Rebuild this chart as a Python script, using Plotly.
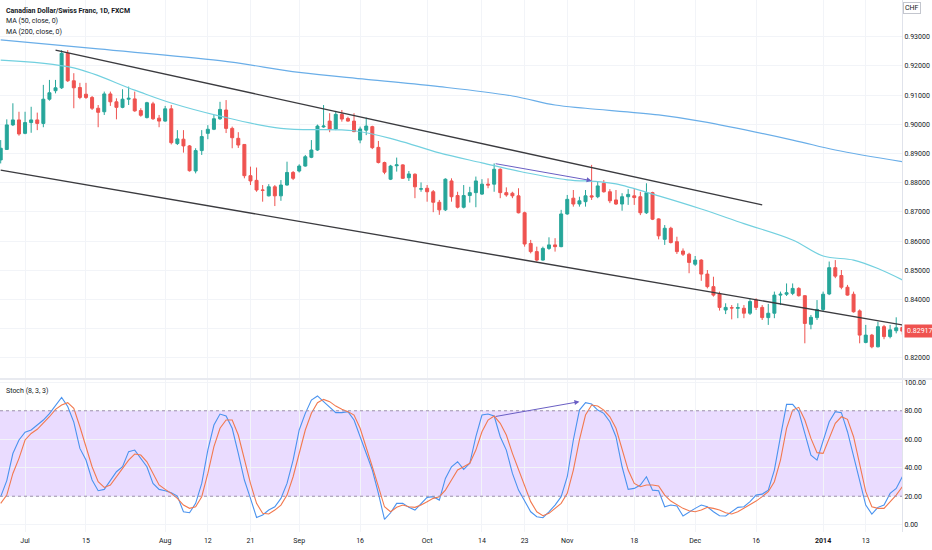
import pandas as pd
import plotly.graph_objects as go

# ---------------- data ----------------
holidays = ["2013-12-25", "2014-01-01"]
dates = [d.strftime("%Y-%m-%d") for d in pd.bdate_range("2013-06-25", "2014-01-21")
         if d.strftime("%Y-%m-%d") not in holidays]

open_ = [0.8878,0.8914,0.8998,0.9015,0.8969,0.9006,0.9015,0.9003,0.9086,0.9115,
         0.9125,0.9243,0.9149,0.9126,0.9103,0.9092,0.9055,0.9043,0.9104,0.9077,
         0.9058,0.9086,0.9087,0.9047,0.9023,0.9070,0.9021,0.9011,0.9053,0.8934,
         0.8949,0.8926,0.8840,0.8910,0.8969,0.8983,0.9019,0.9049,0.8986,0.8952,
         0.8931,0.8824,0.8808,0.8775,0.8755,0.8786,0.8755,0.8792,0.8835,0.8840,
         0.8857,0.8887,0.8912,0.8991,0.9011,0.8984,0.9034,0.9020,0.9011,0.8946,
         0.8980,0.8992,0.8921,0.8869,0.8812,0.8858,0.8861,0.8817,0.8829,0.8778,
         0.8781,0.8769,0.8733,0.8707,0.8806,0.8756,0.8716,0.8756,0.8766,0.8761,
         0.8795,0.8795,0.8846,0.8766,0.8764,0.8755,0.8697,0.8592,0.8564,0.8535,
         0.8575,0.8587,0.8581,0.8693,0.8747,0.8727,0.8735,0.8755,0.8752,0.8798,
         0.8769,0.8741,0.8727,0.8752,0.8755,0.8752,0.8697,0.8766,0.8676,0.8606,
         0.8644,0.8598,0.8566,0.8555,0.8521,0.8535,0.8487,0.8444,0.8419,0.8364,
         0.8372,0.8370,0.8370,0.8353,0.8398,0.8373,0.8338,0.8353,0.8415,0.8418,
         0.8421,0.8438,0.8413,0.8315,0.8338,0.8366,0.8419,0.8509,0.8482,0.8442,
         0.8418,0.8361,0.8253,0.8278,0.8238,0.8307,0.8273,0.8293,0.8304]
high = [0.8946,0.9017,0.9072,0.9043,0.9043,0.9060,0.9040,0.9135,0.9152,0.9152,
        0.9254,0.9254,0.9175,0.9142,0.9142,0.9097,0.9066,0.9112,0.9112,0.9089,
        0.9120,0.9129,0.9112,0.9055,0.9077,0.9077,0.9032,0.9063,0.9066,0.8980,
        0.8980,0.8929,0.8918,0.8980,0.8997,0.9032,0.9077,0.9083,0.8992,0.8973,
        0.8932,0.8855,0.8852,0.8792,0.8795,0.8792,0.8809,0.8872,0.8840,0.8863,
        0.8895,0.8946,0.8999,0.9066,0.9038,0.9046,0.9049,0.9026,0.9038,0.8992,
        0.9023,0.8995,0.8943,0.8872,0.8861,0.8886,0.8863,0.8840,0.8832,0.8801,
        0.8792,0.8775,0.8741,0.8815,0.8815,0.8769,0.8792,0.8786,0.8821,0.8812,
        0.8815,0.8866,0.8849,0.8784,0.8769,0.8781,0.8701,0.8604,0.8581,0.8581,
        0.8613,0.8610,0.8707,0.8758,0.8775,0.8752,0.8775,0.8861,0.8803,0.8809,
        0.8778,0.8775,0.8764,0.8778,0.8778,0.8769,0.8798,0.8769,0.8678,0.8655,
        0.8649,0.8615,0.8575,0.8560,0.8549,0.8538,0.8501,0.8478,0.8427,0.8387,
        0.8381,0.8387,0.8381,0.8404,0.8404,0.8381,0.8385,0.8427,0.8427,0.8455,
        0.8455,0.8442,0.8415,0.8347,0.8398,0.8427,0.8530,0.8535,0.8501,0.8450,
        0.8427,0.8366,0.8313,0.8282,0.8324,0.8313,0.8313,0.8339,0.8313]
low = [0.8866,0.8912,0.8994,0.8961,0.8966,0.8971,0.8980,0.8990,0.9081,0.9106,
       0.9121,0.9145,0.9055,0.9086,0.9087,0.9049,0.8990,0.9032,0.9063,0.9017,
       0.9055,0.9066,0.9043,0.9026,0.9020,0.9015,0.8990,0.9009,0.8931,0.8929,
       0.8903,0.8838,0.8832,0.8895,0.8949,0.8980,0.9015,0.8970,0.8918,0.8919,
       0.8815,0.8792,0.8769,0.8735,0.8753,0.8720,0.8738,0.8790,0.8809,0.8835,
       0.8855,0.8884,0.8909,0.8988,0.8973,0.8980,0.9009,0.9009,0.8973,0.8935,
       0.8963,0.8915,0.8866,0.8829,0.8809,0.8838,0.8813,0.8806,0.8747,0.8769,
       0.8735,0.8699,0.8690,0.8703,0.8735,0.8712,0.8712,0.8732,0.8716,0.8758,
       0.8781,0.8769,0.8747,0.8752,0.8747,0.8695,0.8581,0.8558,0.8530,0.8533,
       0.8570,0.8564,0.8579,0.8690,0.8718,0.8718,0.8718,0.8741,0.8747,0.8766,
       0.8730,0.8724,0.8704,0.8724,0.8724,0.8689,0.8693,0.8672,0.8606,0.8587,
       0.8592,0.8556,0.8549,0.8490,0.8515,0.8464,0.8438,0.8410,0.8362,0.8350,
       0.8332,0.8336,0.8336,0.8347,0.8364,0.8330,0.8313,0.8336,0.8381,0.8412,
       0.8415,0.8410,0.8250,0.8298,0.8330,0.8358,0.8415,0.8473,0.8435,0.8413,
       0.8355,0.8250,0.8250,0.8233,0.8236,0.8264,0.8267,0.8284,0.8280]
close = [0.8918,0.8998,0.9015,0.8967,0.9006,0.9015,0.9003,0.9086,0.9108,0.9125,
         0.9243,0.9149,0.9125,0.9092,0.9092,0.9055,0.9041,0.9104,0.9077,0.9058,
         0.9086,0.9089,0.9046,0.9031,0.9074,0.9019,0.9011,0.9053,0.8937,0.8950,
         0.8926,0.8841,0.8910,0.8958,0.8983,0.9019,0.9051,0.8986,0.8954,0.8929,
         0.8824,0.8806,0.8775,0.8774,0.8786,0.8755,0.8792,0.8835,0.8815,0.8857,
         0.8889,0.8912,0.8994,0.8994,0.8983,0.9034,0.9018,0.9011,0.8975,0.8984,
         0.8994,0.8920,0.8869,0.8836,0.8857,0.8861,0.8815,0.8830,0.8786,0.8779,
         0.8769,0.8733,0.8707,0.8812,0.8752,0.8716,0.8756,0.8766,0.8806,0.8795,
         0.8792,0.8846,0.8766,0.8758,0.8755,0.8697,0.8590,0.8564,0.8535,0.8575,
         0.8587,0.8581,0.8693,0.8743,0.8727,0.8738,0.8755,0.8751,0.8789,0.8769,
         0.8738,0.8727,0.8752,0.8760,0.8749,0.8697,0.8766,0.8675,0.8618,0.8644,
         0.8595,0.8564,0.8555,0.8527,0.8535,0.8487,0.8444,0.8415,0.8373,0.8373,
         0.8371,0.8372,0.8353,0.8393,0.8373,0.8338,0.8353,0.8415,0.8418,0.8423,
         0.8438,0.8413,0.8318,0.8339,0.8366,0.8418,0.8509,0.8480,0.8442,0.8415,
         0.8358,0.8278,0.8278,0.8238,0.8307,0.8273,0.8296,0.8303,0.82917]

ma50_idx = [0, 12, 22, 28, 36, 46, 58, 65, 72, 79, 86, 93, 98, 101, 108, 115, 122, 130, 135, 140, 144, 148]
ma50_val = [0.9220, 0.9193, 0.9117, 0.9073, 0.9028, 0.8986, 0.8978, 0.8946, 0.8902, 0.8868, 0.8835,
            0.8810, 0.8804, 0.8796, 0.8755, 0.8710, 0.8660, 0.8604, 0.8549, 0.8535, 0.8506, 0.8467]
ma200_idx = [0, 16, 36, 49, 60, 72, 84, 91, 96, 108, 115, 130, 137, 148]
ma200_val = [0.9289, 0.9258, 0.9218, 0.9178, 0.9154, 0.9129, 0.9097, 0.9066, 0.9055, 0.9032,
             0.9010, 0.8946, 0.8912, 0.8872]

stoch_k = [19.7,31,50,59.5,65,66.5,70,73.5,78,84,89.4,83,72,53.6,45.4,31.4,23.9,24.8,31.4,37.2,
           40.7,51.3,52.4,46.6,40.7,29,24.8,23.9,22.5,20.1,9.1,8.4,15,29,52.4,70,77.7,76.3,67.7,50.1,
           31.4,18.5,5.1,6.8,10.3,12.6,18.5,29,45.4,66.5,78.2,87.5,90.4,86.4,82.4,78.7,78.7,79.4,73.5,61.8,
           50.1,38.4,22,3.7,8.4,15,15,12.2,10.3,15,19.2,19.7,17.3,32.5,40.7,44.2,38.9,43.1,61.8,77,
           77.7,76.3,61.8,52.4,36,24.3,16.2,9.1,5.6,4.9,9.1,13.8,19.7,33.7,59.5,80.5,85.7,84.7,80.5,78.2,
           72.3,61.8,40.7,24.8,25.5,27.9,33.7,24.3,23.9,12.6,13.8,13.1,6.1,9.1,11.5,13.8,12.6,9.1,6.3,6.1,
           9.1,12.2,12.6,16.2,20.8,21.5,24.3,38.4,61.8,84.5,84.5,79.4,64.1,48.9,45.4,59.5,72.3,79.4,78.7,65.3,
           47.8,31.4,13.8,7.5,12.2,13.8,22,25.5,33.7]
stoch_d = [15,20.8,36,46.6,59.5,64.1,67,71.2,75.8,81,84,85.7,81.7,68.8,54.8,40.7,30.2,26.2,27.9,33.7,
           39.6,45.4,49.6,48.9,44.2,36,27.9,24.8,22,18.5,13.8,11.5,12.6,19.7,36,54.8,67.7,73.5,73.5,63,
           45.4,29,15,8,7.5,10.3,13.8,20.8,33.7,50.1,66.5,78.2,85.7,88,86.4,83.3,81,79.4,77,67.7,
           54.8,40.7,26.7,12.6,9.1,12.2,13.8,12.6,12.2,13.8,16.2,18.5,19.7,24.3,31.4,38.4,40.7,43.1,52.4,65.3,
           73.5,76.3,71.2,63,50.1,38.4,26.7,16.2,9.1,6.3,8,11.5,15,22,38.4,59.5,77,84,83.3,80.5,
           75.8,67.7,53.6,38.4,29,26.7,27.9,27.9,27.2,20.8,16.6,13.8,11.5,9.8,9.1,10.3,12.2,11.5,10.3,8.4,
           7.5,9.1,11.5,13.8,16.6,19.7,23.2,30.2,45.4,67.7,80.5,82.4,73.5,60.6,50.6,50.1,60.6,71.2,75.8,74,
           61.8,43.1,23.2,12.6,11.5,11.5,16.2,20.8,26.7]

upper_trend_idx = [9, 125]
upper_trend_val = [0.9254, 0.8724]
lower_trend_idx = [0, 148]
lower_trend_val = [0.8843, 0.8313]

price_arrow_idx = [81, 97]
price_arrow_val = [0.8866, 0.8807]
stoch_arrow_idx = [81, 95]
stoch_arrow_val = [75.8, 86.4]

tick_dates = ["2013-07-01", "2013-07-15", "2013-08-01", "2013-08-12", "2013-08-21", "2013-09-02",
              "2013-09-16", "2013-10-01", "2013-10-14", "2013-10-23", "2013-11-01", "2013-11-18",
              "2013-12-02", "2013-12-16", "2014-01-02", "2014-01-13"]
tick_text = ["Jul", "15", "Aug", "12", "21", "Sep", "16", "Oct", "14", "23", "Nov", "18",
             "Dec", "16", "<b>2014</b>", "13"]
price_ticks = [0.82, 0.83, 0.84, 0.85, 0.86, 0.87, 0.88, 0.89, 0.90, 0.91, 0.92, 0.93]
# the 0.83000 label sits under the last-price tag in the reference
price_tick_text = ["%.5f" % v if abs(v - 0.83) > 1e-9 else "" for v in price_ticks]
stoch_ticks = [0, 20, 40, 60, 80, 100]

# ---------------- figure ----------------
FONT = "Roboto"
TXT = "#131722"
GRID = "#f2f4f8"
UP, DOWN = "#26a69a", "#ef5350"

fig = go.Figure()
fig.add_trace(go.Candlestick(
    x=dates, open=open_, high=high, low=low, close=close,
    increasing=dict(line=dict(color=UP, width=1), fillcolor=UP),
    decreasing=dict(line=dict(color=DOWN, width=1), fillcolor=DOWN),
    whiskerwidth=0, xaxis="x", yaxis="y", showlegend=False))
fig.add_trace(go.Scatter(x=[dates[i] for i in ma200_idx], y=ma200_val, mode="lines",
                         line=dict(color="#6aaee8", width=1.2, shape="spline"),
                         xaxis="x", yaxis="y", showlegend=False))
fig.add_trace(go.Scatter(x=[dates[i] for i in ma50_idx], y=ma50_val, mode="lines",
                         line=dict(color="#72d0df", width=1.2, shape="spline"),
                         xaxis="x", yaxis="y", showlegend=False))
fig.add_trace(go.Scatter(x=[dates[i] for i in upper_trend_idx], y=upper_trend_val, mode="lines",
                         line=dict(color="#3b3b3f", width=1.4), xaxis="x", yaxis="y", showlegend=False))
fig.add_trace(go.Scatter(x=[dates[i] for i in lower_trend_idx], y=lower_trend_val, mode="lines",
                         line=dict(color="#3b3b3f", width=1.4), xaxis="x", yaxis="y", showlegend=False))

fig.add_trace(go.Scatter(x=dates, y=stoch_k, mode="lines", line=dict(color="#4a93ef", width=1.1),
                         xaxis="x2", yaxis="y2", showlegend=False))
fig.add_trace(go.Scatter(x=dates, y=stoch_d, mode="lines", line=dict(color="#f2794f", width=1.1),
                         xaxis="x2", yaxis="y2", showlegend=False))

shapes = [
    dict(type="rect", xref="paper", yref="y2", x0=0, x1=1, y0=20, y1=80,
         fillcolor="rgba(160,95,255,0.22)", line=dict(width=0), layer="below"),
    dict(type="line", xref="paper", yref="y2", x0=0, x1=1, y0=80, y1=80,
         line=dict(color="#9d90ad", width=1, dash="dot")),
    dict(type="line", xref="paper", yref="y2", x0=0, x1=1, y0=20, y1=20,
         line=dict(color="#9d90ad", width=1, dash="dot")),
    dict(type="line", xref="paper", yref="paper", x0=0, x1=1.04, y0=0.2876, y1=0.2876,
         line=dict(color="#e0e3eb", width=1.5)),
]

annotations = [
    dict(x=dates[price_arrow_idx[1]], y=price_arrow_val[1], ax=dates[price_arrow_idx[0]],
         ay=price_arrow_val[0], xref="x", yref="y", axref="x", ayref="y", text="",
         showarrow=True, arrowhead=2, arrowsize=1, arrowwidth=1, arrowcolor="#6a5fc4"),
    dict(x=dates[stoch_arrow_idx[1]], y=stoch_arrow_val[1], ax=dates[stoch_arrow_idx[0]],
         ay=stoch_arrow_val[0], xref="x2", yref="y2", axref="x2", ayref="y2", text="",
         showarrow=True, arrowhead=2, arrowsize=1, arrowwidth=1, arrowcolor="#6a5fc4"),
    dict(x=0.004, y=1 - 10.5 / 532, xref="paper", yref="paper", xanchor="left", yanchor="middle",
         text="<b>Canadian Dollar/Swiss Franc, 1D, FXCM</b>", showarrow=False,
         font=dict(family=FONT, size=7, color=TXT)),
    dict(x=0.004, y=1 - 21.5 / 532, xref="paper", yref="paper", xanchor="left", yanchor="middle",
         text="MA (50, close, 0)", showarrow=False, font=dict(family=FONT, size=7, color=TXT)),
    dict(x=0.004, y=1 - 32.3 / 532, xref="paper", yref="paper", xanchor="left", yanchor="middle",
         text="MA (200, close, 0)", showarrow=False, font=dict(family=FONT, size=7, color=TXT)),
    dict(x=0.004, y=1 - 390.5 / 532, xref="paper", yref="paper", xanchor="left", yanchor="middle",
         text="Stoch (8, 3, 3)", showarrow=False, font=dict(family=FONT, size=7, color=TXT)),
    dict(x=1.002, y=close[-1], xref="paper", yref="y", xanchor="left", yanchor="middle",
         text="%.5f" % close[-1], showarrow=False, bgcolor=DOWN, borderpad=2,
         font=dict(family=FONT, size=7, color="white")),
    dict(x=912 / 901.7, y=1 - 8.5 / 532, xref="paper", yref="paper", xanchor="center", yanchor="middle",
         text="CHF", showarrow=False, bgcolor="white", bordercolor="#c3c6ce", borderwidth=1, borderpad=1,
         font=dict(family=FONT, size=7, color=TXT)),
]

fig.update_layout(
    width=932, height=550,
    margin=dict(l=0, r=30.3, t=0, b=18, autoexpand=False),
    paper_bgcolor="white", plot_bgcolor="white",
    font=dict(family=FONT, size=7, color=TXT),
    xaxis=dict(domain=[0, 1], anchor="y", type="category", categoryorder="array", categoryarray=dates,
               range=[-0.115, 147.95], rangeslider=dict(visible=False), showticklabels=False,
               tickmode="array", tickvals=tick_dates, showgrid=True, gridcolor=GRID, zeroline=False,
               showline=False, ticks="", automargin=False),
    yaxis=dict(domain=[0.2895, 1], anchor="x", side="right", range=[0.81312, 0.94257],
               tickmode="array", tickvals=price_ticks, ticktext=price_tick_text, showgrid=True,
               gridcolor=GRID, zeroline=False, showline=True, linecolor="#e0e3eb", linewidth=1, ticks="",
               tickfont=dict(size=7, color=TXT), automargin=False),
    xaxis2=dict(domain=[0, 1], anchor="y2", type="category", matches="x", categoryorder="array",
                categoryarray=dates, tickmode="array", tickvals=tick_dates, ticktext=tick_text,
                showgrid=True, gridcolor=GRID, zeroline=False, showline=False, ticks="",
                tickangle=0, tickfont=dict(size=7, color=TXT), automargin=False, ticklabelstandoff=3),
    yaxis2=dict(domain=[0, 0.2857], anchor="x2", side="right", range=[-5.1, 101.6],
                tickmode="array", tickvals=stoch_ticks, tickformat=".2f", showgrid=True, gridcolor=GRID,
                zeroline=False, showline=True, linecolor="#e0e3eb", linewidth=1, ticks="",
                tickfont=dict(size=7, color=TXT), automargin=False),
    shapes=shapes, annotations=annotations,
)

fig.write_html("out.html", config={"displayModeBar": False},
               post_script="document.body.style.margin='0';document.body.style.padding='0';"
                           "document.body.style.overflow='hidden';")
